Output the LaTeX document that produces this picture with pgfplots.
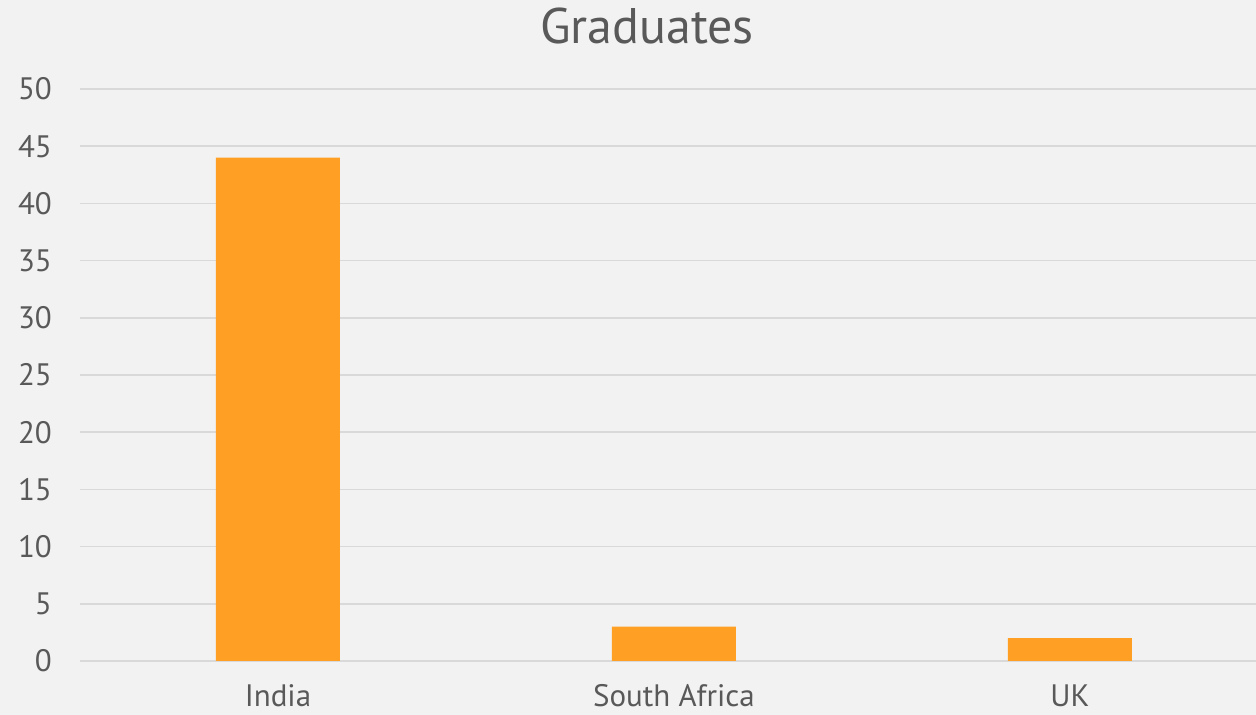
\documentclass[border=0pt]{standalone}
\usepackage{pgfplots}
\pgfplotsset{compat=1.18}
\usepackage{fontspec}
\setmainfont{PT Sans}
\definecolor{bg}{HTML}{F2F2F2}
\definecolor{barc}{HTML}{FFA024}
\definecolor{gridc}{HTML}{D9D9D9}
\definecolor{txt}{HTML}{595959}
\begin{document}
\begin{tikzpicture}[x=1pt,y=1pt]
\fill[bg] (0,0) rectangle (1256,715);
\useasboundingbox (0,0) rectangle (1256,715);
\begin{axis}[
  at={(80pt,54pt)}, anchor=south west,
  scale only axis, width=1176pt, height=572pt,
  xmin=-0.5, xmax=2.47, ymin=0, ymax=50,
  ytick={0,5,...,50},
  xtick={0,1,2}, xticklabels={India,South Africa,UK},
  axis line style={draw=none},
  major tick length=0pt,
  ymajorgrids, xmajorgrids=false,
  major grid style={draw=gridc, line width=1.6pt},
  tick label style={font=\fontsize{31}{34}\selectfont, text=txt, inner sep=0pt},
  /pgf/number format/assume math mode=true,
  yticklabel style={anchor=east, xshift=-28pt},
  xticklabel style={anchor=base, yshift=-46pt},
  clip=false,
]
\addplot[ybar, bar width=124pt, fill=barc, draw=none] coordinates {(0,44) (1,3) (2,2)};
\end{axis}
\node[text=txt, font=\fontsize{50}{54}\selectfont, anchor=base, inner sep=0pt] at (647,671) {Graduates};
\end{tikzpicture}
\end{document}
